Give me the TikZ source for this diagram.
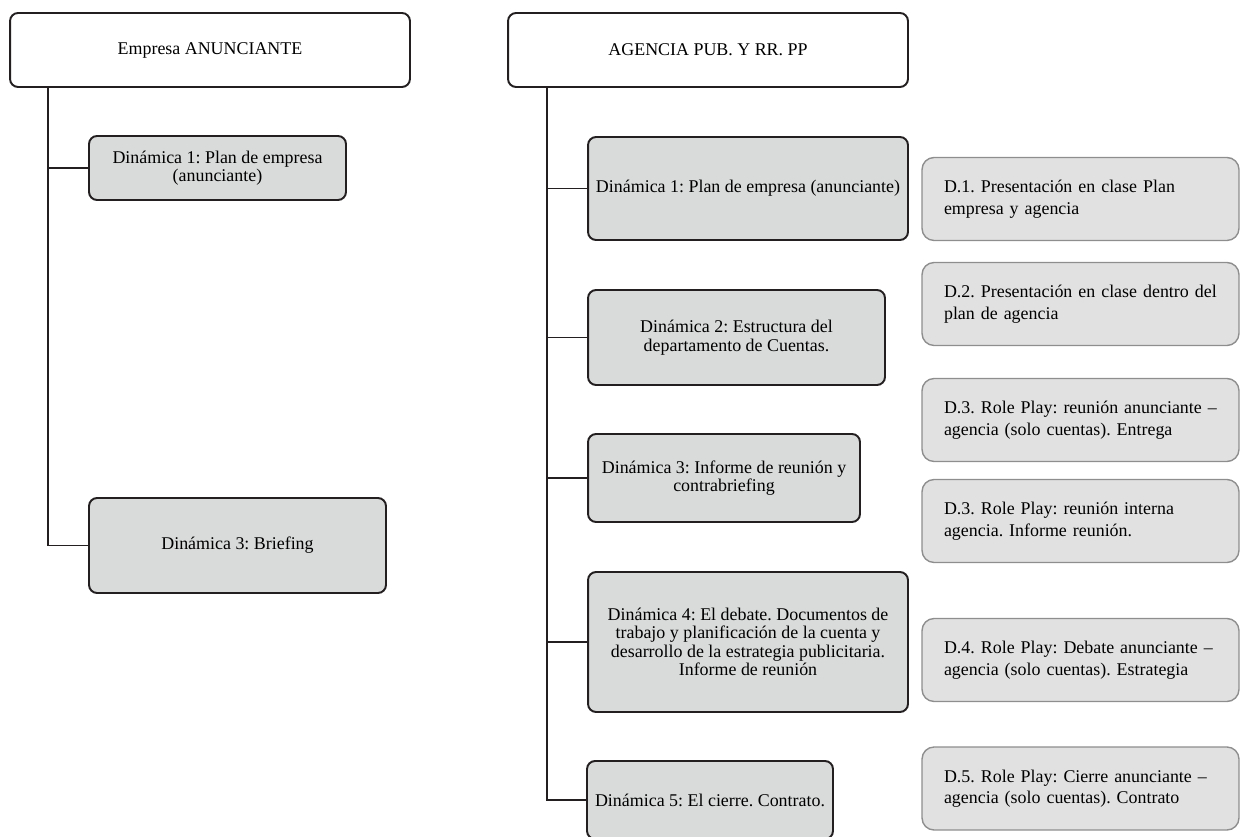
\documentclass[tikz,border=0pt]{standalone}
\usepackage{fontspec}
\setmainfont{Liberation Serif}
\usepackage{xcolor}
\usepackage{tikz}
\definecolor{inkdark}{HTML}{231F20}
\definecolor{dynfill}{HTML}{D9DADA}
\definecolor{delfill}{HTML}{E1E1E1}
\definecolor{delline}{HTML}{8E8E8E}
\frenchspacing

\begin{document}
\begin{tikzpicture}[x=0.02cm,y=-0.02cm,
  box/.style={draw=inkdark,line width=1.1pt,rounded corners=0.16cm,align=center,
              inner sep=2pt,font=\fontsize{10.2}{10.5}\selectfont},
  headbox/.style={box,fill=white,minimum width=8cm,minimum height=1.48cm},
  dynbox/.style={box,fill=dynfill},
  delbox/.style={draw=delline,line width=0.8pt,fill=delfill,rounded corners=0.24cm,
              align=left,text width=5.46cm,inner xsep=0.44cm,minimum height=1.66cm,
              font=\fontsize{10.2}{12.2}\selectfont},
  edge/.style={draw=inkdark,line width=1pt}]
\useasboundingbox (0,0) rectangle (1240,837);
% advertiser side
\node[headbox] (emp) at (210,50) {Empresa ANUNCIANTE};
\node[dynbox,minimum width=5.14cm,minimum height=1.28cm] (emp1) at (217.5,168)
  {Dinámica 1: Plan de empresa\\(anunciante)};
\node[dynbox,minimum width=5.94cm,minimum height=1.9cm] (emp3) at (237.5,545.5)
  {Dinámica 3: Briefing};
% agency side
\node[headbox] (agc) at (708,50) {AGENCIA PUB. Y RR. PP};
\node[dynbox,minimum width=6.4cm,minimum height=2.06cm] (agc1) at (748,188.5)
  {Dinámica 1: Plan de empresa (anunciante)};
\node[dynbox,minimum width=5.94cm,minimum height=1.9cm] (agc2) at (736.5,337.5)
  {Dinámica 2: Estructura del\\departamento de Cuentas.};
\node[dynbox,minimum width=5.44cm,minimum height=1.76cm] (agc3) at (724,478)
  {Dinámica 3: Informe de reunión y\\contrabriefing};
\node[dynbox,minimum width=6.4cm,minimum height=2.8cm] (agc4) at (748,642)
  {Dinámica 4: El debate. Documentos de\\trabajo y planificación de la cuenta y\\
   desarrollo de la estrategia publicitaria.\\Informe de reunión};
\node[dynbox,minimum width=4.92cm,minimum height=1.56cm] (agc5) at (710,800)
  {Dinámica 5: El cierre. Contrato.};
% deliverables
\node[delbox] (del1) at (1080.5,199) {D.1. Presentación en clase Plan\\empresa y agencia};
\node[delbox] (del2) at (1080.5,304) {D.2. Presentación en clase dentro del\\plan de agencia};
\node[delbox] (del3a) at (1080.5,420) {D.3. Role Play: reunión anunciante –\\agencia (solo cuentas). Entrega};
\node[delbox] (del3b) at (1080.5,521) {D.3. Role Play: reunión interna\\agencia. Informe reunión.};
\node[delbox] (del4) at (1080.5,660) {D.4. Role Play: Debate anunciante –\\agencia (solo cuentas). Estrategia};
\node[delbox] (del5) at (1080.5,788.5) {D.5. Role Play: Cierre anunciante –\\agencia (solo cuentas). Contrato};
% trunks
\draw[edge] (emp.south west) ++(39,0) coordinate (empT) |- (emp3.west);
\draw[edge] (empT |- emp1.west) -- (emp1.west);
\draw[edge] (agc.south west) ++(40,0) coordinate (agcT) |- (agc5.west);
\foreach \n in {1,...,4}
  \draw[edge] (agcT |- agc\n.west) -- (agc\n.west);
\end{tikzpicture}
\end{document}
